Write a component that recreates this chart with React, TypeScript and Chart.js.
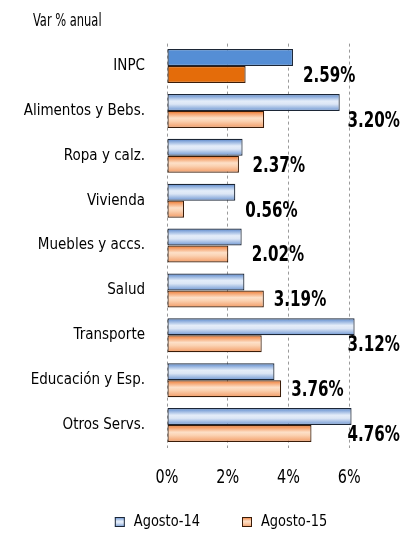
import React, { useEffect, useRef } from 'react';
import { Chart, registerables } from 'chart.js';

Chart.register(...registerables);

const titleText = 'Var % anual';
const categories = [
  'INPC',
  'Alimentos y Bebs.',
  'Ropa y calz.',
  'Vivienda',
  'Muebles y accs.',
  'Salud',
  'Transporte',
  'Educación y Esp.',
  'Otros Servs.',
];
const seriesNames = ['Agosto-14', 'Agosto-15'];
const agosto14 = [4.15, 5.69, 2.49, 2.25, 2.46, 2.55, 6.18, 3.54, 6.08];
const agosto15 = [2.59, 3.2, 2.37, 0.56, 2.02, 3.19, 3.12, 3.76, 4.76];
const xTickValues = [0, 2, 4, 6];

const FONT = "'DejaVu Sans Condensed', 'Liberation Sans Narrow', sans-serif";
const CAT_PCT = 0.757;

const solid = ['#558ed5', '#e46c0a'];
const borders = ['#1c2636', '#3a1c08'];
const gradStops = [
  [
    [0, '#4677bd'],
    [0.12, '#7fa3d8'],
    [0.42, '#e4edf9'],
    [0.6, '#dce6f5'],
    [1, '#6c95d2'],
  ],
  [
    [0, '#df5f08'],
    [0.12, '#f2955a'],
    [0.42, '#fde0c8'],
    [0.6, '#fbd2b2'],
    [1, '#f29a64'],
  ],
];

function makeFill(which: number) {
  return (ctx: any) => {
    const chart = ctx.chart;
    if (ctx.type !== 'data') return solid[which];
    if (ctx.dataIndex === 0) return solid[which];
    const y = chart.scales && chart.scales.y;
    if (!y || !chart.chartArea) return solid[which];
    const center = y.getPixelForValue(ctx.dataIndex);
    const thick = (y.height / categories.length) * CAT_PCT / 2;
    const top = which === 0 ? center - thick : center;
    const g = chart.ctx.createLinearGradient(0, top, 0, top + thick);
    for (const [p, c] of gradStops[which]) g.addColorStop(p as number, c as string);
    return g;
  };
}

// draws narrow text: font of given size squeezed horizontally by fx
function narrowText(
  ctx: CanvasRenderingContext2D,
  text: string,
  x: number,
  y: number,
  size: number,
  fx: number,
  align: 'left' | 'center' | 'right' = 'left',
  weight = 'normal'
) {
  ctx.save();
  ctx.font = `${weight} ${size}px ${FONT}`;
  ctx.textBaseline = 'middle';
  ctx.textAlign = align;
  ctx.translate(x, y);
  ctx.scale(fx, 1);
  ctx.fillText(text, 0, 0);
  ctx.restore();
}
function narrowWidth(ctx: CanvasRenderingContext2D, text: string, size: number, fx: number, weight = 'normal') {
  ctx.save();
  ctx.font = `${weight} ${size}px ${FONT}`;
  const w = ctx.measureText(text).width * fx;
  ctx.restore();
  return w;
}

const overlayPlugin = {
  id: 'overlay',
  afterDatasetsDraw(chart: any) {
    const ctx = chart.ctx;
    const m0 = chart.getDatasetMeta(0);
    const m1 = chart.getDatasetMeta(1);
    ctx.save();
    ctx.fillStyle = '#000';
    agosto15.forEach((v, i) => {
      const b0 = m0.data[i];
      const b1 = m1.data[i];
      const text = v.toFixed(2) + '%';
      const w = narrowWidth(ctx, text, 21, 0.8, 'bold');
      const end = Math.max(b0.x, b1.x);
      let x = end + 10;
      if (x + w > chart.width - 1) x = chart.width - 1 - w;
      narrowText(ctx, text, x, b1.y + 2, 21, 0.8, 'left', 'bold');
    });
    ctx.restore();
  },
  afterDraw(chart: any) {
    const ctx = chart.ctx;
    ctx.save();
    ctx.fillStyle = '#000';
    // title
    narrowText(ctx, titleText, 33, 22, 17, 0.75);
    // x tick labels
    const xs = chart.scales.x;
    xTickValues.forEach((v) => {
      ctx.fillStyle = '#000';
      narrowText(ctx, v + '%', xs.getPixelForValue(v), 478, 20, 0.8, 'center');
    });
    // legend
    const box = 10;
    const gapText = 9;
    const gapItem = 42;
    const widths = seriesNames.map((s) => box + gapText + narrowWidth(ctx, s, 16, 0.9));
    const total = widths[0] + widths[1] + gapItem;
    let x = 221 - total / 2;
    const yc = 522;
    seriesNames.forEach((s, i) => {
      const g = ctx.createLinearGradient(0, yc - box / 2, 0, yc + box / 2);
      for (const [p, c] of gradStops[i]) g.addColorStop(p as number, c as string);
      ctx.fillStyle = g;
      ctx.fillRect(x, yc - box / 2, box, box);
      ctx.strokeStyle = borders[i];
      ctx.lineWidth = 1;
      ctx.strokeRect(x + 0.5, yc - box / 2 + 0.5, box - 1, box - 1);
      ctx.fillStyle = '#000';
      narrowText(ctx, s, x + box + gapText, yc, 16, 0.9);
      x += widths[i] + gapItem;
    });
    ctx.restore();
  },
};

export default function App() {
  const ref = useRef<HTMLCanvasElement | null>(null);
  useEffect(() => {
    if (!ref.current) return;
    const chart = new Chart(ref.current, {
      type: 'bar',
      data: {
        labels: categories,
        datasets: [
          {
            label: seriesNames[0],
            data: agosto14,
            backgroundColor: makeFill(0),
            borderColor: borders[0],
            borderWidth: 1.2,
            borderSkipped: false,
            categoryPercentage: CAT_PCT,
            barPercentage: 1,
          },
          {
            label: seriesNames[1],
            data: agosto15,
            backgroundColor: makeFill(1),
            borderColor: borders[1],
            borderWidth: 1.2,
            borderSkipped: false,
            categoryPercentage: CAT_PCT,
            barPercentage: 1,
          },
        ],
      },
      options: {
        indexAxis: 'y',
        animation: false,
        responsive: true,
        maintainAspectRatio: false,
        layout: { padding: { top: 43.6, right: 21.5, left: 0, bottom: 0 } },
        plugins: {
          legend: { display: false },
          title: { display: false },
          tooltip: { enabled: false },
        },
        scales: {
          x: {
            min: 0,
            max: 7,
            afterBuildTicks: (scale: any) => {
              scale.ticks = xTickValues.map((v) => ({ value: v }));
            },
            afterFit: (scale: any) => {
              scale.height = 533 - 447.5;
            },
            grid: {
              color: '#9a9a9a',
              lineWidth: 1,
              drawTicks: false,
            },
            border: { display: false, dash: [3, 3] },
            ticks: { display: false },
          },
          y: {
            afterFit: (scale: any) => {
              scale.width = 167;
            },
            grid: { display: false, drawTicks: false },
            border: { display: false },
            ticks: {
              padding: 22,
              color: '#000',
              font: { family: FONT, size: 15 },
            },
          },
        },
      },
      plugins: [overlayPlugin],
    });
    return () => chart.destroy();
  }, []);
  return (
    <div style={{ position: 'fixed', left: 0, top: 0, width: 401, height: 533, background: '#fff' }}>
      <canvas ref={ref} />
    </div>
  );
}
